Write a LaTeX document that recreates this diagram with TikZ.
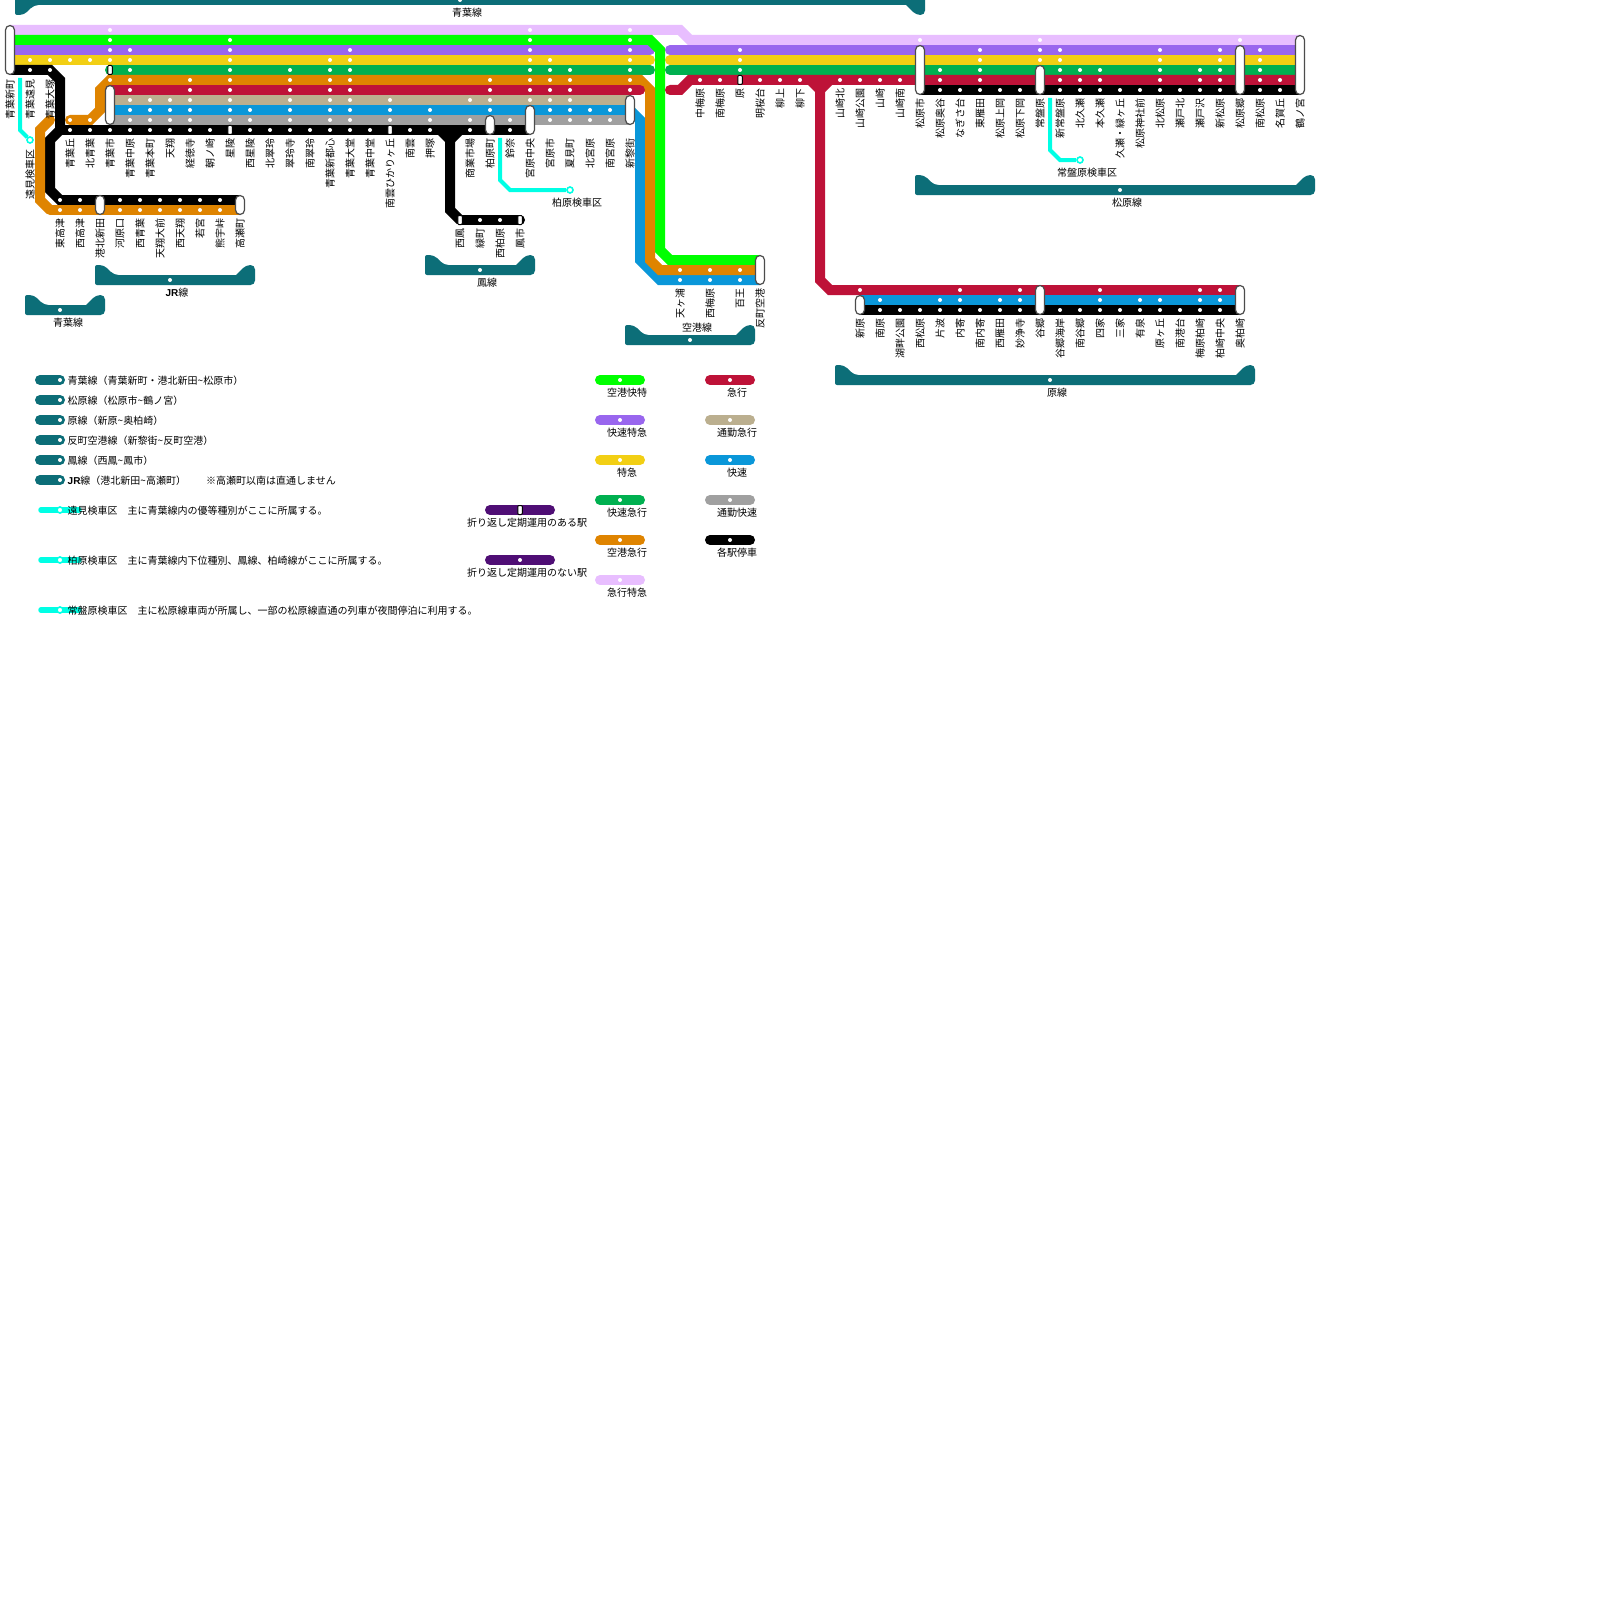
\documentclass[tikz,border=0pt]{standalone}
\usepackage{fontspec}
\setmainfont{Noto Sans CJK JP}
\newfontfamily\latinfont{Liberation Sans}
\usepackage{tikz}
\definecolor{rpink}{HTML}{E8BEFF}
\definecolor{rlime}{HTML}{00FF00}
\definecolor{rpurple}{HTML}{9966EE}
\definecolor{ryellow}{HTML}{F2CF14}
\definecolor{rgreen}{HTML}{00B050}
\definecolor{rorange}{HTML}{DF8400}
\definecolor{rcrimson}{HTML}{BE1238}
\definecolor{rtan}{HTML}{BBAF8F}
\definecolor{rblue}{HTML}{0A97D9}
\definecolor{rgray}{HTML}{A0A0A0}
\definecolor{rteal}{HTML}{0C6E78}
\definecolor{rcyan}{HTML}{00FFE5}
\definecolor{rviolet}{HTML}{4F0E75}
\tikzset{
  every node/.style={font=\fontsize{10}{12}\selectfont},
  track/.style={line width=10pt},
  pill/.style={line width=10pt, line cap=round},
  stop/.style={circle, fill=white, inner sep=0pt, minimum size=4pt},
  term/.style={draw=black!70, fill=white, line width=1.2pt, rounded corners=4.5pt, inner sep=0pt, minimum width=9pt, minimum height=#1},
  narrow/.style={draw=black, fill=white, line width=1pt, rounded corners=1pt, inner sep=0pt, minimum width=4.5pt, minimum height=9pt},
  stn/.style={rotate=90, anchor=east, inner sep=0pt, xshift=-0.7pt},
  barlabel/.style={inner sep=0pt, yshift=-0.8pt},
  note/.style={anchor=west, inner sep=0pt, yshift=-0.5pt},
  depotline/.style={draw=rcyan, line width=4pt},
  depotlegend/.style={draw=rcyan, line width=5.5pt, line cap=round},
  depot/.style={circle, draw=rcyan, line width=1.6pt, fill=white, inner sep=0pt, minimum size=6pt},
}
% bar under a group of stations, #4 = 1 tabs up, -1 tabs down
\newcommand{\linebar}[4]{
  \fill[rteal, rounded corners=2pt] (#1,#3+5*#4) -- (#1,#3-15*#4) [rounded corners=4.5pt] -- (#1+9,#3-15*#4)
    -- (#1+19,#3-5*#4) [sharp corners] -- (#2-19,#3-5*#4) -- (#2-18.5,#3-5.5*#4) [rounded corners=4.5pt]
    -- (#2-9,#3-15*#4) -- (#2,#3-15*#4) -- (#2,#3+5*#4) [rounded corners=2pt] -- cycle;
}
\begin{document}
\begin{tikzpicture}[x=1pt, y=-1pt]
  \clip (0,0) rectangle (1600,1600);
  \fill[white] (0,0) rectangle (1600,1600);

  % line bars
  \linebar{15}{925}{0}{-1}
  \linebar{25}{105}{310}{1}
  \linebar{95}{255}{280}{1}
  \linebar{425}{535}{270}{1}
  \linebar{625}{755}{340}{1}
  \linebar{915}{1315}{190}{1}
  \linebar{835}{1255}{380}{1}

  % main lines
  \draw[track, rpink] (10,30) -- (680,30) -- (690,40) -- (1300,40);
  \draw[pill, rpurple] (10,50) -- (650,50);
  \draw[pill, rpurple] (670,50) -- (1300,50);
  \draw[pill, ryellow] (10,60) -- (650,60);
  \draw[pill, ryellow] (670,60) -- (1300,60);
  \draw[pill, rgreen] (110,70) -- (650,70);
  \draw[pill, rgreen] (670,70) -- (1300,70);
  \draw[track, rlime] (10,40) -- (650,40) -- (660,50) -- (660,250) -- (670,260) -- (760,260);
  \draw[track, rblue] (110,110) -- (630,110) -- (640,120) -- (640,260) -- (660,280) -- (760,280);
  \draw[track, rorange, line cap=round] (70,120) -- (90,120) -- (100,110) -- (100,90) -- (110,80) -- (640,80)
    -- (650,90) -- (650,260) -- (660,270) -- (760,270);
  \draw[track, rtan] (110,100) -- (630,100);
  \draw[track, rgray] (110,120) -- (630,120);
  \draw[pill, rcrimson] (110,90) -- (640,90);
  \draw[track, black] (10,70) -- (50,70) -- (60,80) -- (60,130) -- (50,140) -- (50,190) -- (60,200) -- (240,200);
  \draw[track, black] (60,130) -- (530,130);
  \draw[track, black] (450,130) -- (450,210) -- (460,220);
  \draw[pill, black] (460,220) -- (520,220);
  \fill[black] (438,135) -- (462,135) -- (455,142) -- (445,142) -- cycle;
  \draw[track, rorange, line cap=round] (50,120) -- (40,130) -- (40,200) -- (50,210);
  \draw[track, rorange] (50,210) -- (240,210);
  \draw[track, black] (920,90) -- (1300,90);

  % right side express and branch
  \draw[track, rcrimson, line cap=round] (670,90) -- (680,90) -- (690,80) -- (1300,80);
  \draw[track, rcrimson] (820,80) -- (820,280) -- (830,290) -- (1240,290);
  \fill[rcrimson] (808,85) -- (832,85) -- (825,92) -- (815,92) -- cycle;
  \draw[track, rblue] (860,300) -- (1240,300);
  \draw[track, black] (860,310) -- (1240,310);

  % stops
  \foreach \y/\list in {
    30/{110,530,630}, 40/{110,230,530,630,920,1040,1240},
    50/{110,130,230,350,530,630,740,980,1040,1060,1160,1220,1260},
    60/{30,50,70,90,110,130,230,330,350,530,550,630,740,980,1040,1060,1160,1220,1260},
    70/{30,50,130,230,290,330,350,530,550,570,630,740,940,980,1060,1080,1100,1160,1200,1220,1260},
    80/{110,130,190,230,290,330,350,490,530,550,570,630,700,720,760,780,800,840,860,880,900,940,980,1060,1080,1100,1160,1200,1220,1260,1280},
    90/{130,190,230,290,330,350,490,530,550,570,630,940,960,980,1000,1020,1060,1080,1100,1120,1140,1160,1180,1200,1220,1260,1280},
    100/{130,150,170,190,230,290,330,350,390,470,490,530,550,570},
    110/{130,150,170,190,230,250,290,330,350,390,430,490,550,570,590,610},
    120/{70,90,130,150,170,190,230,250,290,330,350,390,430,470,510,550,570,590,610},
    130/{70,90,110,130,150,170,190,210,250,270,290,310,330,350,370,410,430,470,510},
    200/{60,80,120,140,160,180,200,220}, 210/{60,80,120,140,160,180,200,220},
    220/{480,500}, 270/{680,710,740}, 280/{680,710,740},
    290/{860,960,1020,1100,1200,1220},
    300/{880,940,960,1000,1020,1100,1140,1160,1200,1220},
    310/{880,900,920,940,960,980,1000,1020,1060,1080,1100,1120,1140,1160,1180,1200,1220}}
    \foreach \x in \list \node[stop] (d\x-\y) at (\x,\y) {};

  % bar stops
  \foreach \x/\y in {460/0,60/310,170/280,480/270,690/340,1120/190,1050/380}
    \node[stop] (b\x-\y) at (\x,\y) {};

  % terminals
  \node[term=49pt] (shinmachi) at (10,50) {};
  \node[narrow] (aobaichi2) at (110,70) {};
  \node[term=39pt] (aobaichi) at (110,105) {};
  \node[narrow] (seiryo) at (230,130) {};
  \node[narrow] (hikari) at (390,130) {};
  \node[term=19pt] (kashiwara) at (490,125) {};
  \node[term=29pt] (miyahara) at (530,120) {};
  \node[term=29pt] (shinrei) at (630,110) {};
  \node[term=19pt] (kohoku) at (100,205) {};
  \node[term=19pt] (takase) at (240,205) {};
  \node[narrow] (nishio) at (460,220) {};
  \node[narrow] (otoshi) at (520,220) {};
  \node[term=29pt] (tanmachi) at (760,270) {};
  \node[narrow] (hara) at (740,80) {};
  \node[term=49pt] (matsubara) at (920,70) {};
  \node[term=29pt] (tokiwa) at (1040,80) {};
  \node[term=49pt] (matsugo) at (1240,70) {};
  \node[term=59pt] (tsuru) at (1300,65) {};
  \node[term=19pt] (shinhara) at (860,305) {};
  \node[term=29pt] (tanigo) at (1040,300) {};
  \node[term=29pt] (okukashi) at (1240,300) {};

  % depots
  \coordinate (tomistart) at (20,78);
  \node[depot] (tomi) at (30,140) {};
  \draw[depotline] (tomistart) -- (20,130) -- (tomi);
  \coordinate (kashistart) at (500,138);
  \node[depot] (kashi) at (570,190) {};
  \draw[depotline] (kashistart) -- (500,180) -- (510,190) -- (kashi);
  \coordinate (tokistart) at (1050,98);
  \node[depot] (toki) at (1080,160) {};
  \draw[depotline] (tokistart) -- (1050,150) -- (1060,160) -- (toki);

  % station names
  \foreach \x/\t in {10/青葉新町,30/青葉遠見,50/青葉大塚} \node[stn] (n\x) at (\x,79) {\t};
  \foreach \x/\t in {70/青葉丘,90/北青葉,110/青葉市,130/青葉中原,150/青葉本町,170/天翔,190/経徳寺,210/朝ノ崎,230/星陵,250/西星陵,270/北翠玲,290/翠玲寺,310/南翠玲,330/青葉新都心,350/青葉大堂,370/青葉中堂,390/南雲ひかりヶ丘,410/南雲,430/押塚,470/商業市場,490/柏原町,510/鈴奈,530/宮原中央,550/宮原市,570/夏見町,590/北宮原,610/南宮原,630/新黎街}
    \node[stn] (n\x) at (\x,138) {\t};
  \node[stn] (ntomi) at (30,149) {遠見検車区};
  \foreach \x/\t in {60/東高津,80/西高津,100/港北新田,120/河原口,140/西青葉,160/天翔大前,180/西天翔,200/若宮,220/熊宇峠,240/高瀬町}
    \node[stn] (j\x) at (\x,218) {\t};
  \foreach \x/\t in {460/西鳳,480/緑町,500/西柏原,520/鳳市} \node[stn] (o\x) at (\x,228) {\t};
  \foreach \x/\t in {680/天ヶ浦,710/西梅原,740/百王,760/反町空港} \node[stn] (k\x) at (\x,288) {\t};
  \foreach \x/\t in {700/中梅原,720/南梅原,740/原,760/明桜台,780/柳上,800/柳下,840/山崎北,860/山崎公園,880/山崎,900/山崎南}
    \node[stn] (m\x) at (\x,88) {\t};
  \foreach \x/\t in {920/松原市,940/松原奥谷,960/なぎさ台,980/東雁田,1000/松原上岡,1020/松原下岡,1040/常盤原,1060/新常盤原,1080/北久瀬,1100/本久瀬,1120/久瀬・緑ヶ丘,1140/松原神社前,1160/北松原,1180/瀬戸北,1200/瀬戸沢,1220/新松原,1240/松原郷,1260/南松原,1280/名賀丘,1300/鶴ノ宮}
    \node[stn] (m\x) at (\x,98) {\t};
  \foreach \x/\t in {860/新原,880/南原,900/湖畔公園,920/西松原,940/片波,960/内寄,980/南内寄,1000/西雁田,1020/妙浄寺,1040/谷郷,1060/谷郷海岸,1080/南谷郷,1100/四家,1120/三家,1140/有泉,1160/原ヶ丘,1180/南港台,1200/梅原柏崎,1220/柏崎中央,1240/奥柏崎}
    \node[stn] (h\x) at (\x,318) {\t};

  % bar and depot captions
  \node[barlabel] (aobacap) at (467,12) {青葉線};
  \node[barlabel] (aobacap2) at (68,322) {青葉線};
  \node[barlabel] (jrcap) at (177,292) {{\latinfont\bfseries JR}線};
  \node[barlabel] (otoricap) at (487,282) {鳳線};
  \node[barlabel] (kukocap) at (697,327) {空港線};
  \node[barlabel] (matsucap) at (1127,202) {松原線};
  \node[barlabel] (haracap) at (1057,392) {原線};
  \node[barlabel] (kashicap) at (577,202) {柏原検車区};
  \node[barlabel] (tokicap) at (1087,172) {常盤原検車区};

  % legend, lines
  \foreach \y/\t in {380/青葉線（青葉新町・港北新田\textasciitilde 松原市）,400/松原線（松原市\textasciitilde 鶴ノ宮）,420/原線（新原\textasciitilde 奥柏崎）,440/反町空港線（新黎街\textasciitilde 反町空港）,460/鳳線（西鳳\textasciitilde 鳳市）,480/{{\latinfont\bfseries JR}線（港北新田\textasciitilde 高瀬町）}}{
    \draw[pill, rteal] (40,\y) -- (60,\y);
    \node[stop] (lg\y) at (60,\y) {};
    \node[note] (lt\y) at (67.5,\y) {\t};
  }
  \node[note] (lnote) at (206,480) {※高瀬町以南は直通しません};

  % legend, depots
  \foreach \y/\t in {510/遠見検車区　主に青葉線内の優等種別がここに所属する。,560/柏原検車区　主に青葉線内下位種別、鳳線、柏崎線がここに所属する。,610/常盤原検車区　主に松原線車両が所属し、一部の松原線直通の列車が夜間停泊に利用する。}{
    \draw[depotlegend] (41,\y) -- (79,\y);
    \node[depot] (ld\y) at (60,\y) {};
    \node[note] (dt\y) at (67.5,\y) {\t};
  }

  % legend, turn-back
  \draw[pill, rviolet] (490,510) -- (550,510);
  \node[narrow] (lback) at (520,510) {};
  \node[barlabel] (lbackt) at (527,522) {折り返し定期運用のある駅};
  \draw[pill, rviolet] (490,560) -- (550,560);
  \node[stop] (lnoback) at (520,560) {};
  \node[barlabel] (lnobackt) at (527,572) {折り返し定期運用のない駅};

  % legend, service types
  \foreach \y/\c/\t in {380/rlime/空港快特,420/rpurple/快速特急,460/ryellow/特急,500/rgreen/快速急行,540/rorange/空港急行,580/rpink/急行特急}{
    \draw[pill, \c] (600,\y) -- (640,\y);
    \node[stop] (ls\y) at (620,\y) {};
    \node[barlabel] (lst\y) at (627,\y+12) {\t};
  }
  \foreach \y/\c/\t in {380/rcrimson/急行,420/rtan/通勤急行,460/rblue/快速,500/rgray/通勤快速,540/black/各駅停車}{
    \draw[pill, \c] (710,\y) -- (750,\y);
    \node[stop] (lr\y) at (730,\y) {};
    \node[barlabel] (lrt\y) at (737,\y+12) {\t};
  }
\end{tikzpicture}
\end{document}
